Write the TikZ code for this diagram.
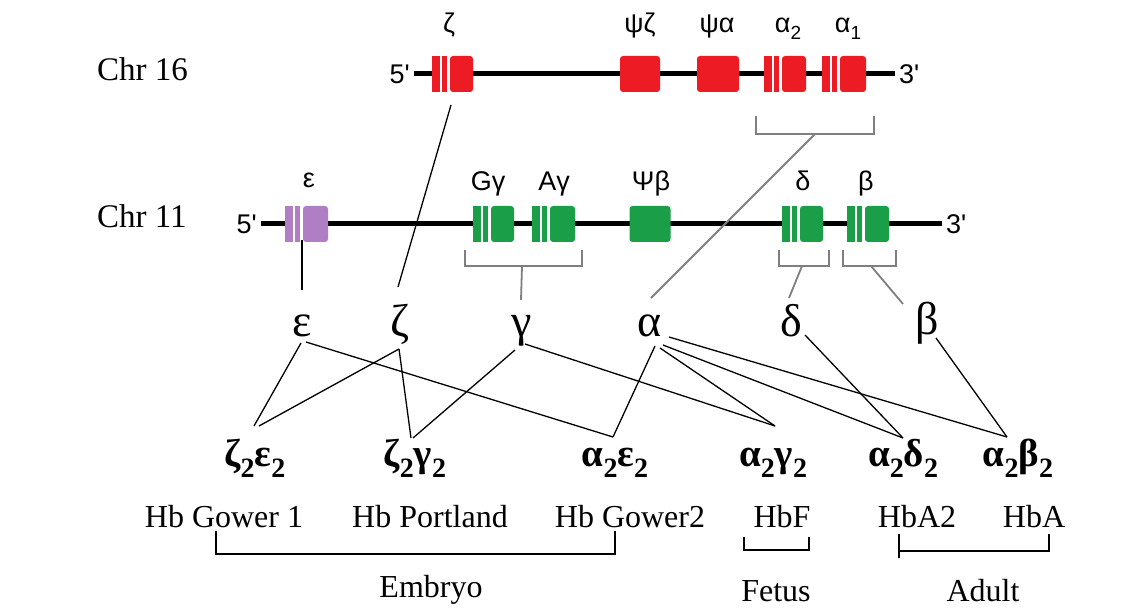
\documentclass[tikz,border=0pt]{standalone}
\usepackage{fontspec}
\setmainfont{Liberation Serif}
\newfontfamily\arialf{Liberation Sans}
\usetikzlibrary{calc}
\definecolor{genred}{HTML}{ED1C24}
\definecolor{gengreen}{HTML}{1A9E48}
\definecolor{genpurple}{HTML}{B07EC4}
\definecolor{brgray}{HTML}{7F7F7F}
\newcommand\gene[6]{% name, x0, xend, ytop, ybot, colour
  \fill[white] (#2,#4) rectangle (#2+18,#5);
  \fill[#6] (#2,#4) rectangle (#2+8,#5);
  \fill[#6] (#2+10,#4) rectangle (#2+15,#5);
  \node[gbox, fill=#6, minimum width={#3-#2-18}, minimum height={#5-#4}] (#1) at ({(#2+18+#3)/2},{(#4+#5)/2}) {};
}
\newcommand\lsub[1]{\raisebox{-7pt}{\fontsize{19}{19}\selectfont #1}}
\newcommand\bsub[1]{\raisebox{-11pt}{\fontsize{28}{28}\selectfont\bfseries #1}}
\begin{document}
\begin{tikzpicture}[x=1pt,y=-1pt,
  chrline/.style={line width=5pt, draw=black},
  gbox/.style={draw=none, rounded corners=3pt, inner sep=0pt},
  brk/.style={draw=brgray, line width=2pt},
  glink/.style={draw=brgray, line width=1.8pt},
  link/.style={draw=black, line width=1.3pt},
  chrlab/.style={font=\fontsize{33}{36}\selectfont, anchor=base west, inner sep=0pt},
  genelab/.style={font=\arialf\fontsize{27}{29}\selectfont, anchor=base, inner sep=0pt},
  endlab/.style={font=\arialf\fontsize{27}{29}\selectfont, inner sep=0pt},
  chain/.style={font=\fontsize{46}{48}\selectfont, anchor=base, inner sep=0pt},
  tetra/.style={font=\bfseries\fontsize{39}{41}\selectfont, anchor=base, inner sep=0pt},
  hb/.style={font=\fontsize{32}{34}\selectfont, anchor=base, inner sep=0pt},
  brkline/.style={draw=black, line width=1.3pt},
]
\useasboundingbox[fill=white] (0,0) rectangle (1143,609);

% ---------------- Chromosome 16 ----------------
\node[chrlab] (chr16) at (97,81) {Chr 16};
\node[endlab, anchor=east] (f16) at (410,74) {5'};
\node[endlab, anchor=west] (t16) at (899,74) {3'};
\draw[chrline] ([xshift=4pt]f16.east) -- ([xshift=-4pt]t16.west);
\gene{zetaG}{432}{473}{56}{92}{genred}
\node[gbox, fill=genred, minimum width=40, minimum height=36] (psizG) at (640,74) {};
\node[gbox, fill=genred, minimum width=42, minimum height=36] (psiaG) at (718,74) {};
\gene{atwoG}{764}{806}{56}{92}{genred}
\gene{aoneG}{822}{866}{56}{92}{genred}
\node[genelab] (lz) at (449,33) {ζ};
\node[genelab] (lpz) at (640,33) {ψζ};
\node[genelab] (lpa) at (717,33) {ψα};
\node[genelab] (la2) at (788,33) {α\lsub{2}};
\node[genelab] (la1) at (848,33) {α\lsub{1}};
\draw[brk] (756,116) -- (756,134) -- (874,134) -- (874,116);
\coordinate (abr) at (815,134);

% ---------------- Chromosome 11 ----------------
\node[chrlab] (chr11) at (97,228) {Chr 11};
\node[endlab, anchor=east] (f11) at (257,224) {5'};
\node[endlab, anchor=west] (t11) at (946,224) {3'};
\draw[chrline] ([xshift=4pt]f11.east) -- ([xshift=-4pt]t11.west);
\gene{epsG}{285}{328}{206}{242}{genpurple}
\gene{GgG}{473}{514}{206}{242}{gengreen}
\gene{AgG}{532}{575}{206}{242}{gengreen}
\node[gbox, fill=gengreen, minimum width=41, minimum height=36] (psibG) at (650,224) {};
\gene{dG}{782}{823}{206}{242}{gengreen}
\gene{bG}{847}{889}{206}{242}{gengreen}
\node[genelab] (le) at (309,188) {ε};
\node[genelab] (lGg) at (488,191) {Gγ};
\node[genelab] (lAg) at (554,191) {Aγ};
\node[genelab] (lpb) at (651,191) {Ψβ};
\node[genelab] (ld) at (803,191) {δ};
\node[genelab] (lb) at (866,191) {β};
\draw[brk] (465,250) -- (465,266) -- (582,266) -- (582,250);
\draw[brk] (779,250) -- (779,266) -- (829,266) -- (829,250);
\draw[brk] (843,250) -- (843,266) -- (896,266) -- (896,250);
\coordinate (gbr) at (522,266);
\coordinate (dbr) at (802,266);
\coordinate (bbr) at (871,266);

% ---------------- globin chains ----------------
\node[chain] (ce) at (302,337) {ε};
\node[chain] (cz) at (400,337) {ζ};
\node[chain] (cg) at (522,337) {γ};
\node[chain] (ca) at (650,337) {α};
\node[chain] (cd) at (791,337) {δ};
\node[chain] (cb) at (927,335) {β};

% gene -> chain connectors
\coordinate (epsGb) at (302,240);
\coordinate (ceT) at (302,290);
\draw[link] (epsGb) -- (ceT);
\coordinate (zetaGb) at (451,105);
\coordinate (czT) at (398,287);
\draw[link] (zetaGb) -- (czT);
\coordinate (caT) at (651,298);
\draw[glink] (abr) -- (caT);
\coordinate (cgT) at (521,300);
\draw[glink] (gbr) -- (cgT);
\coordinate (cdT) at (789,298);
\draw[glink] (dbr) -- (cdT);
\coordinate (cbT) at (903,304);
\draw[glink] (bbr) -- (cbT);

% ---------------- tetramers ----------------
\node[tetra] (ze) at (255,466) {ζ\bsub{2}ε\bsub{2}};
\node[tetra] (zg) at (415,466) {ζ\bsub{2}γ\bsub{2}};
\node[tetra] (ae) at (615,466) {α\bsub{2}ε\bsub{2}};
\node[tetra] (ag) at (773,466) {α\bsub{2}γ\bsub{2}};
\node[tetra] (ad) at (903,466) {α\bsub{2}δ\bsub{2}};
\node[tetra] (ab) at (1018,466) {α\bsub{2}β\bsub{2}};

% chain -> tetramer connectors
\coordinate (ceB1) at (301,343);
\coordinate (ceB2) at (306,342);
\coordinate (czB) at (399,349);
\coordinate (cgB1) at (515,350);
\coordinate (cgB2) at (525,344);
\coordinate (caB1) at (655,346);
\coordinate (caB2) at (660,348);
\coordinate (caB3) at (663,345);
\coordinate (caB4) at (669,337);
\coordinate (cdB) at (805,335);
\coordinate (cbB) at (936,338);
\coordinate (zeT1) at (254,426);
\coordinate (zeT2) at (259,426);
\coordinate (zgT1) at (411,438);
\coordinate (zgT2) at (413,438);
\coordinate (aeT) at (613,437);
\coordinate (agT) at (775,426);
\coordinate (adT) at (903,438);
\coordinate (abT) at (1007,437);
\draw[link] (ceB1) -- (zeT1);
\draw[link] (ceB2) -- (aeT);
\draw[link] (czB) -- (zeT2);
\draw[link] (czB) -- (zgT1);
\draw[link] (cgB1) -- (zgT2);
\draw[link] (cgB2) -- (agT);
\draw[link] (caB1) -- (aeT);
\draw[link] (caB2) -- (agT);
\draw[link] (caB3) -- (adT);
\draw[link] (caB4) -- (abT);
\draw[link] (cdB) -- (adT);
\draw[link] (cbB) -- (abT);

% ---------------- haemoglobins ----------------
\node[hb] (hg1) at (224,527) {Hb Gower 1};
\node[hb] (hpt) at (430,527) {Hb Portland};
\node[hb] (hg2) at (630,527) {Hb Gower2};
\node[hb] (hf) at (782,527) {HbF};
\node[hb] (ha2) at (917,527) {HbA2};
\node[hb] (ha) at (1034,527) {HbA};
\draw[brkline] (216,531) -- (216,554) -- (615,554) -- (615,531);
\draw[brkline] (744,537) -- (744,550) -- (809,550) -- (809,537);
\draw[brkline] (899,534) -- (899,558) -- (899,551) -- (1049,551) -- (1049,534);
\node[hb] (emb) at (431,597) {Embryo};
\node[hb] (fet) at (776,601) {Fetus};
\node[hb] (adu) at (983,601) {Adult};
\end{tikzpicture}
\end{document}
